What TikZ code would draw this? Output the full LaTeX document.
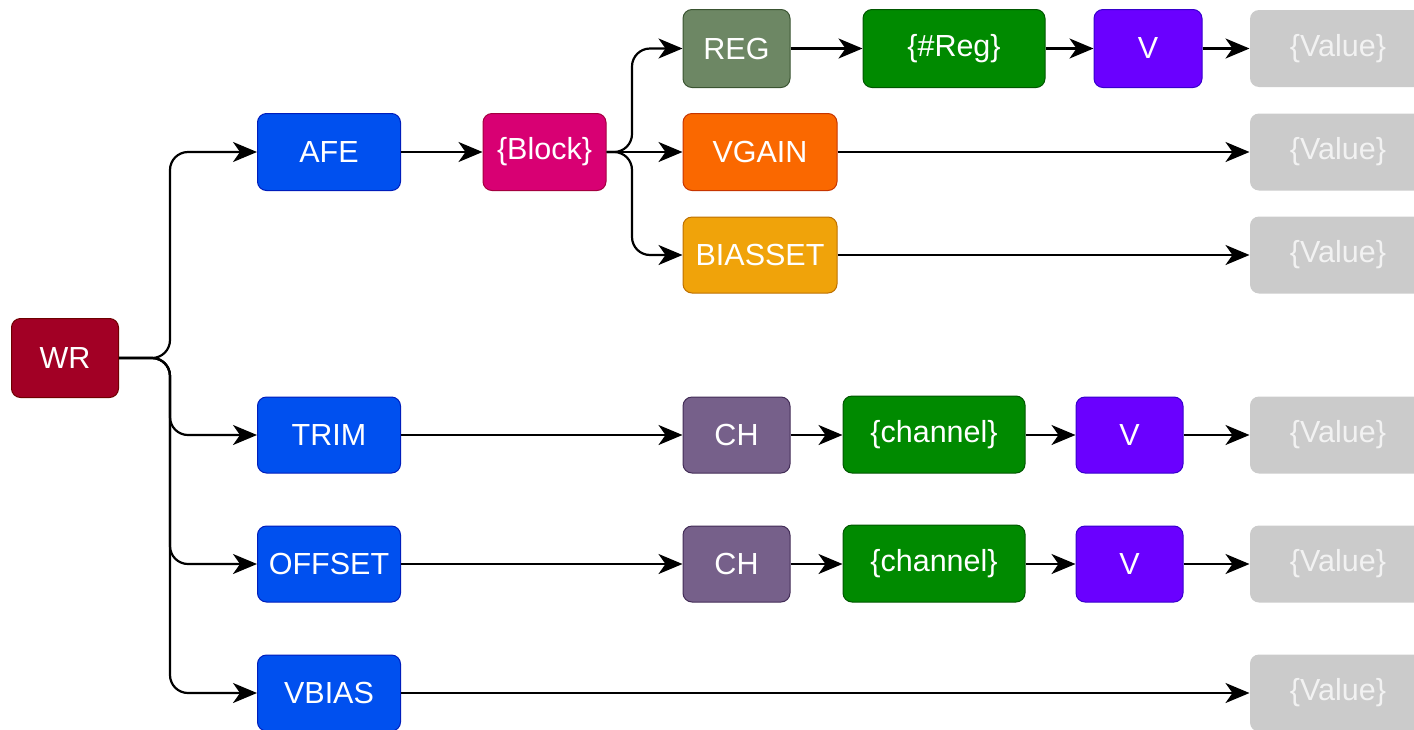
\documentclass[tikz,border=0pt]{standalone}
\usepackage{fontspec}
\setmainfont{Liberation Sans}
\usetikzlibrary{arrows.meta}
\definecolor{cWR}{HTML}{A20025}\definecolor{sWR}{HTML}{6F0000}
\definecolor{cBlue}{HTML}{0050EF}\definecolor{sBlue}{HTML}{001DBC}
\definecolor{cMag}{HTML}{D80073}\definecolor{sMag}{HTML}{A50040}
\definecolor{cOlive}{HTML}{6D8764}\definecolor{sOlive}{HTML}{3A5431}
\definecolor{cGreen}{HTML}{008A00}\definecolor{sGreen}{HTML}{005700}
\definecolor{cViolet}{HTML}{6A00FF}\definecolor{sViolet}{HTML}{3700CC}
\definecolor{cOrange}{HTML}{FA6800}\definecolor{sOrange}{HTML}{C73500}
\definecolor{cAmber}{HTML}{F0A30A}\definecolor{sAmber}{HTML}{BD7000}
\definecolor{cMauve}{HTML}{76608A}\definecolor{sMauve}{HTML}{432D57}
\definecolor{cGray}{HTML}{CBCBCB}\definecolor{tGray}{HTML}{F2F2F2}
\tikzset{
  box/.style={rectangle, rounded corners=9pt, line width=1pt, text=white,
    font=\fontsize{30.5}{36}\selectfont, minimum height=77pt, inner sep=0pt},
  arr/.style={line width=2.2pt, -{Stealth[length=24pt,width=20pt,inset=7pt]}},
  fork/.style={arr, rounded corners=18pt},
}
\begin{document}
\begin{tikzpicture}[x=1pt,y=-1pt]
\useasboundingbox (0,0) rectangle (1414,729);
\clip (0,0) rectangle (1414,729);
% nodes
\node[box, fill=cWR, draw=sWR, minimum width=107pt, minimum height=79pt] (WR) at (65,358) {WR};
\node[box, fill=cBlue, draw=sBlue, minimum width=143pt] (AFE) at (329,152) {AFE};
\node[box, fill=cMag, draw=sMag, minimum width=123pt] (Block) at (544.5,152) {\{Block\}};
\node[box, fill=cOlive, draw=sOlive, minimum width=107pt, minimum height=78pt] (REG) at (736.5,48.5) {REG};
\node[box, fill=cGreen, draw=sGreen, minimum width=182pt, minimum height=78pt] (Reg) at (954,48.5) {\{\#Reg\}};
\node[box, fill=cViolet, draw=sViolet, minimum width=108pt, minimum height=78pt] (V1) at (1148,48.5) {V};
\node[box, fill=cGray, draw=none, text=tGray, minimum width=176pt] (Val1) at (1338,48.5) {\{Value\}};
\node[box, fill=cOrange, draw=sOrange, minimum width=154pt] (VGAIN) at (760,152) {VGAIN};
\node[box, fill=cGray, draw=none, text=tGray, minimum width=176pt] (Val2) at (1338,152) {\{Value\}};
\node[box, fill=cAmber, draw=sAmber, minimum width=154pt, minimum height=76pt] (BIAS) at (760,255) {BIASSET};
\node[box, fill=cGray, draw=none, text=tGray, minimum width=176pt] (Val3) at (1338,255) {\{Value\}};
% TRIM row
\node[box, fill=cBlue, draw=sBlue, minimum width=143pt, minimum height=76pt] (TRIM) at (329,435) {TRIM};
\node[box, fill=cMauve, draw=sMauve, minimum width=107pt, minimum height=76pt] (CH1) at (736.5,435) {CH};
\node[box, fill=cGreen, draw=sGreen, minimum width=182pt, minimum height=77pt] (chan1) at (934,434.5) {\{channel\}};
\node[box, fill=cViolet, draw=sViolet, minimum width=107pt, minimum height=76pt] (V2) at (1129.5,435) {V};
\node[box, fill=cGray, draw=none, text=tGray, minimum width=176pt] (Val4) at (1338,435) {\{Value\}};
% OFFSET row
\node[box, fill=cBlue, draw=sBlue, minimum width=143pt, minimum height=76pt] (OFF) at (329,564) {OFFSET};
\node[box, fill=cMauve, draw=sMauve, minimum width=107pt, minimum height=76pt] (CH2) at (736.5,564) {CH};
\node[box, fill=cGreen, draw=sGreen, minimum width=182pt, minimum height=77pt] (chan2) at (934,563.5) {\{channel\}};
\node[box, fill=cViolet, draw=sViolet, minimum width=107pt, minimum height=76pt] (V3) at (1129.5,564) {V};
\node[box, fill=cGray, draw=none, text=tGray, minimum width=176pt] (Val5) at (1338,564) {\{Value\}};
% VBIAS row
\node[box, fill=cBlue, draw=sBlue, minimum width=143pt, minimum height=76pt] (VB) at (329,693) {VBIAS};
\node[box, fill=cGray, draw=none, text=tGray, minimum width=176pt] (Val6) at (1338,693) {\{Value\}};
% connectors from WR
\coordinate (f1) at (170,358);
\draw[fork] (WR.east) -- (f1) |- (AFE.west);
\draw[fork] (WR.east) -- (f1) |- (TRIM.west);
\draw[fork] (WR.east) -- (f1) |- (OFF.west);
\draw[fork] (WR.east) -- (f1) |- (VB.west);
% AFE branch
\draw[arr] (AFE) -- (Block);
\coordinate (f2) at (632,152);
\draw[fork] (Block.east) -- (f2) |- (REG.west);
\draw[arr] (Block.east) -- (VGAIN.west);
\draw[fork] (Block.east) -- (f2) |- (BIAS.west);
\draw[arr] (REG) -- (Reg);
\draw[arr] (Reg) -- (V1);
\draw[arr] (V1) -- (Val1);
\draw[arr] (VGAIN) -- (Val2);
\draw[arr] (BIAS) -- (Val3);
% rows
\draw[arr] (TRIM) -- (CH1);
\draw[arr] (CH1) -- (chan1.west |- CH1);
\draw[arr] (chan1.east |- V2) -- (V2);
\draw[arr] (V2) -- (Val4);
\draw[arr] (OFF) -- (CH2);
\draw[arr] (CH2) -- (chan2.west |- CH2);
\draw[arr] (chan2.east |- V3) -- (V3);
\draw[arr] (V3) -- (Val5);
\draw[arr] (VB) -- (Val6);
\end{tikzpicture}
\end{document}
